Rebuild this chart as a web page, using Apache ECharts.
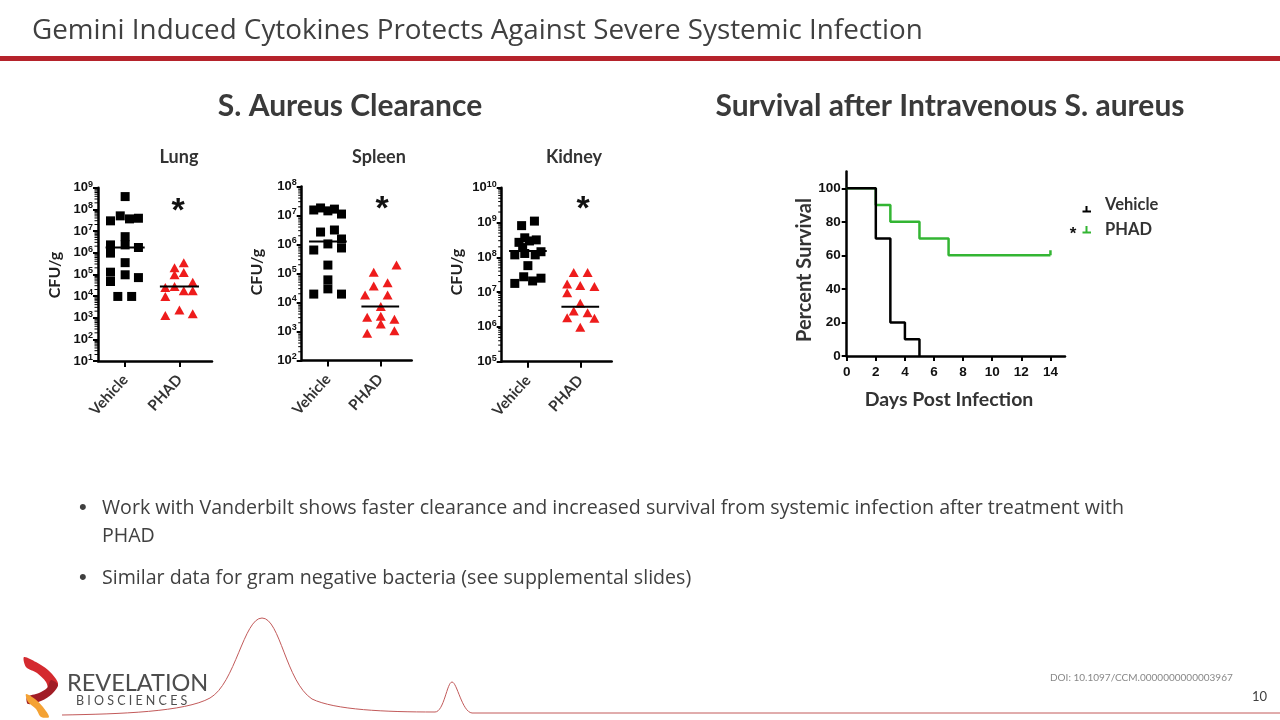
<!DOCTYPE html>
<html><head><meta charset="utf-8">
<script src="https://cdn.jsdelivr.net/npm/echarts@6/dist/echarts.min.js"></script>
<style>html,body{margin:0;padding:0;background:#fff}#c{width:1280px;height:720px}</style>
</head><body><div id="c"></div>
<script>
// ---- data (CFU/g given as log10 exponents) ----
const groups = ['Vehicle', 'PHAD'];
const organs = ['Lung', 'Spleen', 'Kidney'];
const lungVehicle = [8.59,7.47,7.70,7.56,7.59,6.74,6.36,6.36,6.24,5.98,5.54,5.10,4.98,4.85,4.67,3.98,3.98];
const lungVehicleJitter = [0,-0.27,-0.09,0.08,0.245,0,-0.27,0,0.245,-0.27,0,-0.27,0,0.245,-0.27,-0.135,0.12];
const lungPHAD = [5.54,5.31,5.08,4.98,4.64,4.39,4.44,4.24,4.24,3.98,3.36,3.10,3.18];
const lungPHADJitter = [0.08,-0.09,0.08,-0.09,0.245,-0.26,-0.09,0.08,0.245,-0.26,0,-0.26,0.245];
const spleenVehicle = [7.19,7.26,7.16,7.22,7.05,6.43,6.50,6.19,6.02,5.88,5.81,5.29,4.78,4.47,4.29,4.29];
const spleenVehicleJitter = [-0.27,-0.14,0,0.125,0.26,-0.14,0.125,0.26,0,0.26,-0.27,0,0,0,-0.27,0.26];
const spleenPHAD = [5.29,5.04,4.68,4.57,4.26,4.26,3.86,3.53,3.49,3.42,3.26,2.94,3.03];
const spleenPHADJitter = [0.31,-0.125,0.14,-0.125,-0.29,0.14,0.01,0.01,-0.25,0.27,0.01,-0.25,0.27];
const kidneyVehicle = [9.04,8.91,8.56,8.43,8.50,8.47,8.28,8.07,8.11,8.07,8.16,7.76,7.44,7.25,7.32,7.40];
const kidneyVehicleJitter = [0.125,-0.12,-0.06,-0.17,0.16,0.03,-0.1,-0.25,-0.06,0.14,0.25,0,-0.08,-0.25,0.09,0.25];
const kidneyPHAD = [7.56,7.56,7.23,7.19,7.16,6.98,6.68,6.46,6.41,6.26,6.25,5.99];
const kidneyPHADJitter = [-0.125,0.14,-0.25,0,0.27,-0.25,0,-0.125,0.14,-0.25,0.27,0];
const lungMedians = [6.24, 4.44];
const spleenMedians = [6.10, 3.86];
const kidneyMedians = [8.18, 6.58];
const organRanges = [[1, 9], [2, 8], [5, 10]];

const survivalDays = [0, 2, 3, 4, 5];
const survivalVehicle = [100, 70, 20, 10, 0];
const survivalPHADDays = [0, 2, 3, 5, 7, 14];
const survivalPHAD = [100, 90, 80, 70, 60, 60];
const phadCensor = [[14, 60], [14, 63]];
const survivalXTicks = [0, 2, 4, 6, 8, 10, 12, 14];
const survivalYTicks = [0, 20, 40, 60, 80, 100];

// ---- layout ----
const chart = echarts.init(document.getElementById('c'));
const grids = [
  {left: 98, top: 187.7, width: 114, height: 173.3},
  {left: 301.7, top: 186.5, width: 110, height: 174},
  {left: 501.7, top: 187.7, width: 110, height: 174},
  {left: 846.7, top: 171.5, width: 218.3, height: 184.5}
];
const HF = 'Lato, "DejaVu Sans", sans-serif';
const sup = {s: {fontSize: 9, fontWeight: 'bold', fontFamily: 'Liberation Sans', color: '#111', verticalAlign: 'top', padding: [0, 0, 7, 0]}};

const xAxes = [], yAxes = [], series = [];
const sets = [
  [lungVehicle, lungVehicleJitter, lungPHAD, lungPHADJitter, lungMedians],
  [spleenVehicle, spleenVehicleJitter, spleenPHAD, spleenPHADJitter, spleenMedians],
  [kidneyVehicle, kidneyVehicleJitter, kidneyPHAD, kidneyPHADJitter, kidneyMedians]
];
sets.forEach((s, i) => {
  xAxes.push({
    gridIndex: i, type: 'value', min: 0.5, max: 2.6,
    axisLine: {show: true, lineStyle: {color: '#000', width: 2.5}},
    axisTick: {show: true, customValues: [1, 2], length: 6, lineStyle: {width: 2, color: '#000'}},
    axisLabel: {show: true, customValues: [1, 2], rotate: 48, margin: 16,
      formatter: v => groups[Math.round(v) - 1], fontFamily: HF, fontWeight: 'bold', fontSize: 15, color: '#333'},
    splitLine: {show: false}
  });
  yAxes.push({
    gridIndex: i, type: 'value', min: organRanges[i][0], max: organRanges[i][1], interval: 1,
    axisLine: {show: true, lineStyle: {color: '#000', width: 2.5}},
    axisTick: {show: true, length: 5, lineStyle: {width: 2, color: '#000'}},
    axisLabel: {margin: 5, formatter: v => '10{s|' + v + '}', rich: sup,
      fontFamily: 'Liberation Sans', fontWeight: 'bold', fontSize: 13, color: '#111'},
    splitLine: {show: false}
  });
  // log minor ticks
  const minor = [];
  for (let d = organRanges[i][0]; d < organRanges[i][1]; d++) for (let k = 2; k <= 9; k++) minor.push([0.5, d + Math.log10(k)]);
  series.push({
    type: 'custom', xAxisIndex: i, yAxisIndex: i, data: minor, silent: true, clip: false,
    renderItem: (params, api) => {
      const p = api.coord([api.value(0), api.value(1)]);
      return {type: 'line', shape: {x1: p[0] - 3.5, y1: p[1], x2: p[0], y2: p[1]}, style: {stroke: '#000', lineWidth: 1}};
    }
  });
  series.push({
    name: organs[i] + ' Vehicle', type: 'scatter', xAxisIndex: i, yAxisIndex: i,
    symbol: 'rect', symbolSize: 9, itemStyle: {color: '#000', opacity: 1},
    data: s[0].map((v, j) => [1 + s[1][j], v])
  });
  series.push({
    name: organs[i] + ' PHAD', type: 'scatter', xAxisIndex: i, yAxisIndex: i,
    symbol: 'triangle', symbolSize: [10, 9], itemStyle: {color: '#ee1c1c', opacity: 1},
    data: s[2].map((v, j) => [2 + s[3][j], v])
  });
  s[4].forEach((m, g) => {
    series.push({
      type: 'line', xAxisIndex: i, yAxisIndex: i, symbol: 'none', z: 5, silent: true,
      lineStyle: {color: '#000', width: 2},
      data: [[g + 1 - 0.36, m], [g + 1 + 0.36, m]]
    });
  });
});

// survival
xAxes.push({
  gridIndex: 3, type: 'value', min: 0, max: 15,
  axisLine: {show: true, lineStyle: {color: '#000', width: 2.5}},
  axisTick: {show: true, customValues: survivalXTicks, length: 5, lineStyle: {width: 2, color: '#000'}},
  axisLabel: {customValues: survivalXTicks, margin: 9, fontFamily: 'Liberation Sans', fontWeight: 'bold', fontSize: 13.5, color: '#111'},
  splitLine: {show: false}
});
yAxes.push({
  gridIndex: 3, type: 'value', min: 0, max: 110,
  axisLine: {show: true, lineStyle: {color: '#000', width: 2.5}},
  axisTick: {show: true, customValues: survivalYTicks, length: 5, lineStyle: {width: 2, color: '#000'}},
  axisLabel: {customValues: survivalYTicks, margin: 6, fontFamily: 'Liberation Sans', fontWeight: 'bold', fontSize: 13.5, color: '#111'},
  splitLine: {show: false}
});
series.push({
  name: 'PHAD', type: 'line', step: 'end', xAxisIndex: 3, yAxisIndex: 3, symbol: 'none',
  lineStyle: {color: '#33b533', width: 2.5}, data: survivalPHADDays.map((d, j) => [d, survivalPHAD[j]])
});
series.push({
  name: 'PHAD censor', type: 'line', xAxisIndex: 3, yAxisIndex: 3, symbol: 'none',
  lineStyle: {color: '#33b533', width: 2.5}, data: phadCensor
});
series.push({
  name: 'Vehicle', type: 'line', step: 'end', xAxisIndex: 3, yAxisIndex: 3, symbol: 'none', z: 4,
  lineStyle: {color: '#000', width: 2.5}, data: survivalDays.map((d, j) => [d, survivalVehicle[j]])
});

function txt(text, x, y, font, fill, align, extra) {
  return Object.assign({type: 'text', x: x, y: y, z: 10, style: {text: text, font: font, fill: fill || '#333', align: align || 'left', verticalAlign: 'middle'}}, extra || {});
}
function bez(x1, y1, c1x, c1y, c2x, c2y, x2, y2) {
  return {type: 'bezierCurve', z: 1, shape: {x1: x1, y1: y1, cpx1: c1x, cpy1: c1y, cpx2: c2x, cpy2: c2y, x2: x2, y2: y2},
    style: {stroke: '#c25a5a', lineWidth: 1, fill: null}};
}
const BF = '19.6px "Open Sans"';
const graphic = [
  txt('Gemini Induced Cytokines Protects Against Severe Systemic Infection', 32, 31, '27.8px "Open Sans"', '#404040'),
  {type: 'rect', shape: {x: 0, y: 56, width: 1280, height: 5}, style: {fill: '#b5232b'}},
  txt('S. Aureus Clearance', 350, 106, 'bold 30px ' + HF, '#3a3a3a', 'center'),
  txt('Survival after Intravenous S. aureus', 950, 106, 'bold 30px ' + HF, '#3a3a3a', 'center'),
  txt('Lung', 179, 157, 'bold 18px ' + HF, '#333', 'center'),
  txt('Spleen', 379, 157, 'bold 18px ' + HF, '#333', 'center'),
  txt('Kidney', 574, 157, 'bold 18px ' + HF, '#333', 'center'),
  txt('CFU/g', 55, 275, 'bold 16px ' + HF, '#222', 'center', {rotation: Math.PI / 2}),
  txt('CFU/g', 257, 272, 'bold 16px ' + HF, '#222', 'center', {rotation: Math.PI / 2}),
  txt('CFU/g', 457, 272, 'bold 16px ' + HF, '#222', 'center', {rotation: Math.PI / 2}),
  txt('*', 178, 212, 'bold 34px "Liberation Sans"', '#111', 'center'),
  txt('*', 382, 210, 'bold 34px "Liberation Sans"', '#111', 'center'),
  txt('*', 583, 210, 'bold 34px "Liberation Sans"', '#111', 'center'),
  txt('Percent Survival', 805, 270, 'bold 20px ' + HF, '#333', 'center', {rotation: Math.PI / 2}),
  txt('Days Post Infection', 949, 400, 'bold 19.5px ' + HF, '#333', 'center'),
  // legend
  {type: 'line', shape: {x1: 1082.5, y1: 211.5, x2: 1091, y2: 211.5}, style: {stroke: '#000', lineWidth: 2}},
  {type: 'line', shape: {x1: 1086.5, y1: 206, x2: 1086.5, y2: 211.5}, style: {stroke: '#000', lineWidth: 2}},
  txt('Vehicle', 1105, 205, 'bold 16.5px ' + HF, '#333'),
  {type: 'line', shape: {x1: 1082.5, y1: 232.5, x2: 1091, y2: 232.5}, style: {stroke: '#33b533', lineWidth: 2}},
  {type: 'line', shape: {x1: 1086.5, y1: 226, x2: 1086.5, y2: 232.5}, style: {stroke: '#33b533', lineWidth: 2}},
  txt('*', 1073, 234, 'bold 17px "Liberation Sans"', '#111', 'center'),
  txt('PHAD', 1105, 230, 'bold 16.5px ' + HF, '#333'),
  // bullets
  txt('•', 79, 508, '22px "Liberation Sans"', '#404040'),
  txt('Work with Vanderbilt shows faster clearance and increased survival from systemic infection after treatment with', 102, 508, BF, '#404040'),
  txt('PHAD', 102, 536, BF, '#404040'),
  txt('•', 79, 578, '22px "Liberation Sans"', '#404040'),
  txt('Similar data for gram negative bacteria (see supplemental slides)', 102, 578, BF, '#404040'),
  // footer curve
  bez(62, 715, 120, 714, 185, 712, 210, 698),
  bez(210, 698, 235, 684, 244, 618, 262, 618),
  bez(262, 618, 280, 618, 286, 682, 312, 699),
  bez(312, 699, 335, 710, 385, 712, 435, 712),
  bez(435, 712, 444, 712, 447, 682, 452, 682),
  bez(452, 682, 457, 682, 462, 712, 472, 713),
  {type: 'line', shape: {x1: 472, y1: 713, x2: 1280, y2: 713}, style: {stroke: '#c25a5a', lineWidth: 1}},
  // logo
  {type: 'polygon', shape: {points: [[24, 657], [36, 662], [48, 670], [56, 679], [58, 685], [50, 692], [46, 682], [37, 673], [26, 667]], smooth: 0.3}, style: {fill: '#d42a2f'}},
  {type: 'polygon', shape: {points: [[58, 685], [52, 694], [41, 701], [28, 704], [27, 697], [39, 693], [47, 688], [51, 680]], smooth: 0.3}, style: {fill: '#a11d26'}},
  {type: 'polygon', shape: {points: [[26, 694], [35, 699], [43, 707], [49, 717], [41, 717], [36, 709], [28, 702]], smooth: 0.3}, style: {fill: '#f4a234'}},
  txt('REVELATION', 67, 683, '23.5px ' + HF, '#4d4d4d'),
  txt('B I O S C I E N C E S', 76, 701, '12.5px ' + HF, '#4d4d4d'),
  txt('DOI: 10.1097/CCM.0000000000003967', 1050, 678, '10px ' + HF, '#888'),
  txt('10', 1252, 697, '13px ' + HF, '#404040')
];

chart.setOption({
  animation: false,
  backgroundColor: '#fff',
  grid: grids,
  xAxis: xAxes,
  yAxis: yAxes,
  series: series,
  graphic: graphic
});
</script></body></html>
